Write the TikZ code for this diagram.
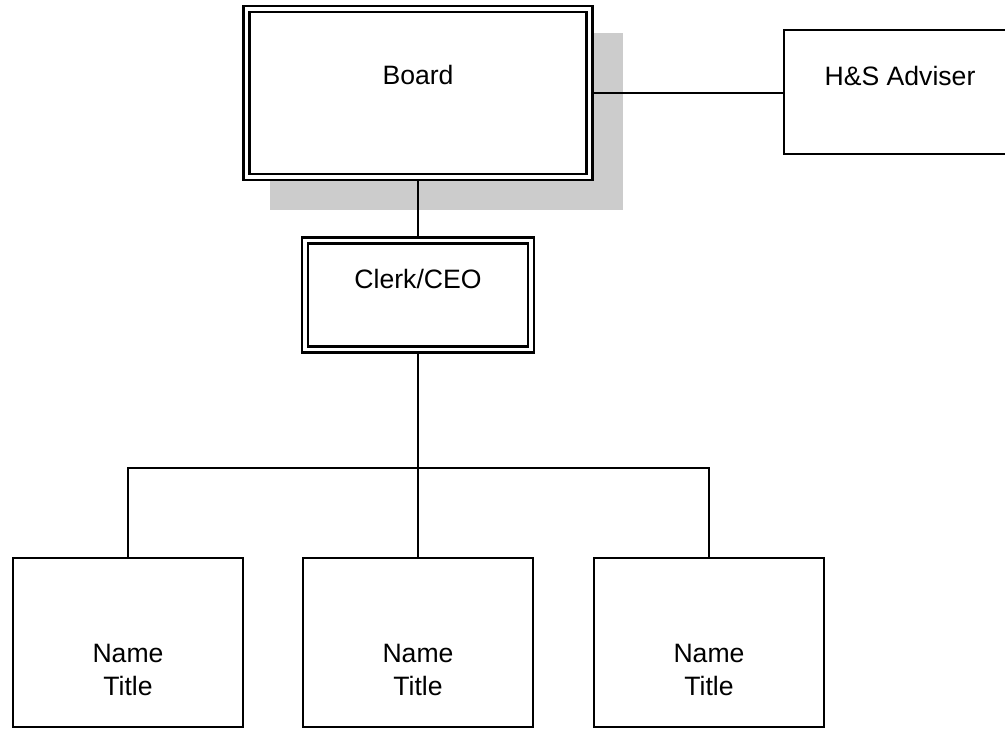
\documentclass[tikz,border=0pt]{standalone}
\usepackage{fontspec}
\setmainfont{Liberation Sans}
\usetikzlibrary{backgrounds}
\tikzset{
  orgbox/.style = {draw=black, line width=1.1pt, fill=white, align=center,
    inner sep=0pt, font=\fontsize{13.3}{16.5}\selectfont},
  dbox/.style = {orgbox, line width=1.4pt, double=white,
    double distance=1.6pt, outer sep=2.2pt},
  staff/.style = {orgbox, minimum width=115pt, text height=68.5pt,
    text depth=16pt},
  link/.style = {draw=black, line width=1.1pt}
}

\begin{document}
\begin{tikzpicture}[x=0.5pt, y=-0.5pt]
\useasboundingbox (0,0) rectangle (1005,728);
\clip (0,0) rectangle (1005,728);
% top of the chart
\node [dbox, minimum width=171.5pt, text height=37.5pt, text depth=46.5pt]
  (board) at (418,93) {Board};
\node [dbox, minimum width=113pt, text height=23.75pt, text depth=30.75pt]
  (clerk) at (418,295) {Clerk/CEO};
\node [orgbox, minimum width=116pt, text height=27.5pt, text depth=34.5pt]
  (adviser) at (900,92) {H\&S Adviser};
\begin{scope}[on background layer]
  \fill [black!20] ([shift={(28,28)}]board.north west)
    rectangle ([shift={(29,29)}]board.south east);
\end{scope}
% staff row
\node [staff] (staff1) at (128,642.5) {Name\\Title};
\node [staff] (staff2) at (418,642.5) {Name\\Title};
\node [staff] (staff3) at (709,642.5) {Name\\Title};
\coordinate (bus) at (418,468);
% connectors
\draw [link] (board.east) -- (board.east -| adviser.west);
\draw [link] (board.south) -- (clerk.north);
\foreach \n in {staff1, staff2, staff3}
  \draw [link] (clerk.south) |- (bus -| \n.north) -- (\n.north);
\end{tikzpicture}
\end{document}
